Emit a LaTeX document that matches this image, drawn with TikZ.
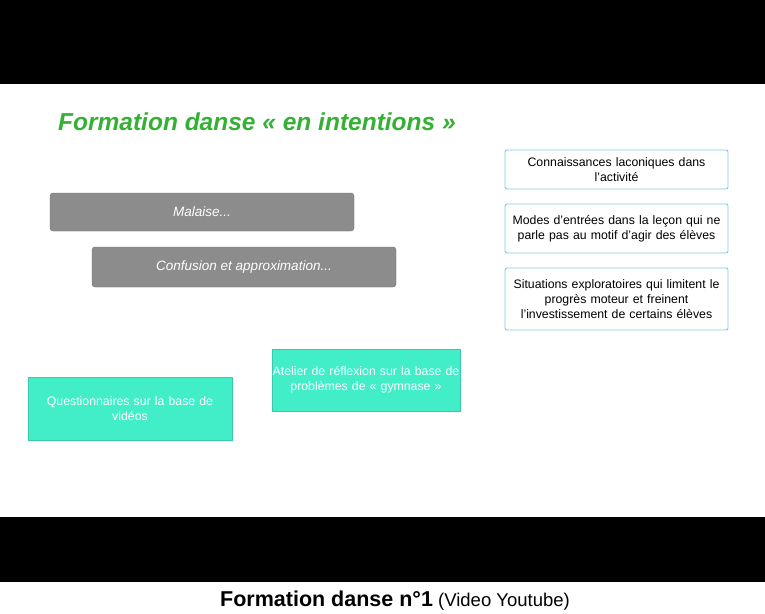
\documentclass[tikz,border=0pt]{standalone}
\usepackage{fontspec}
\setmainfont{Liberation Sans}
\definecolor{titlegreen}{RGB}{52,176,52}
\definecolor{barregray}{RGB}{140,140,140}
\definecolor{menthe}{RGB}{66,238,200}
\definecolor{bordbleu}{RGB}{125,205,222}
\tikzset{
  grisbox/.style={draw=barregray!80!black, fill=barregray, rounded corners=3pt,
    text=white, font=\itshape\fontsize{13.5}{16}\selectfont, inner sep=0pt},
  bleubox/.style={draw=bordbleu, fill=white, rounded corners=2pt, line width=0.9pt,
    text=black, align=center, font=\fontsize{12.3}{15}\selectfont, inner sep=0pt},
  menthebox/.style={draw=menthe!85!black, fill=menthe, text=white, align=center,
    font=\fontsize{12.3}{15}\selectfont, inner sep=0pt},
}
\begin{document}
\begin{tikzpicture}[x=1pt,y=-1pt]
  \useasboundingbox (0,0) rectangle (765,613);
  \fill[white] (0,0) rectangle (765,613);
  % bandes noires
  \fill[black] (0,0) rectangle (765,84);
  \fill[black] (0,517) rectangle (765,582);

 \node (titre) at (58,130) [anchor=base west, inner sep=0pt, text=titlegreen, font=\bfseries\itshape\fontsize{24.5}{28}\selectfont] {Formation danse « en intentions »};

  \node (malaise) at (202,212) [grisbox, minimum width=304pt, minimum height=38pt] {Malaise...};
  \node (confusion) at (244,267) [grisbox, minimum width=304pt, minimum height=40pt] {Confusion et approximation...};

  \node (connaissances) at (616.5,169.5) [bleubox, minimum width=223pt, minimum height=39pt, text width=220pt] {Connaissances laconiques dans\\ l'activité};
  \node (modes) at (616.5,228.5) [bleubox, minimum width=223pt, minimum height=49pt, text width=220pt] {Modes d'entrées dans la leçon qui ne\\ parle pas au motif d'agir des élèves};
  \node (situations) at (616.5,299) [bleubox, minimum width=223pt, minimum height=62pt, text width=220pt] {Situations exploratoires qui limitent le\\ progrès moteur et freinent\\ l'investissement de certains élèves};

  \node (questionnaires) at (130,408.5) [menthebox, minimum width=204pt, minimum height=63pt, text width=200pt] {Questionnaires sur la base de\\ vidéos};
  \node (atelier) at (366,380) [menthebox, minimum width=188pt, minimum height=62pt, text width=188pt] {Atelier de réflexion sur la base de\\ problèmes de « gymnase »};

  \node (legende) at (395,606) [anchor=base, inner sep=0pt, font=\fontsize{18.5}{20}\selectfont] {\textbf{\fontsize{21.5}{24}\selectfont Formation danse n°1} (Video Youtube)};
\end{tikzpicture}
\end{document}
